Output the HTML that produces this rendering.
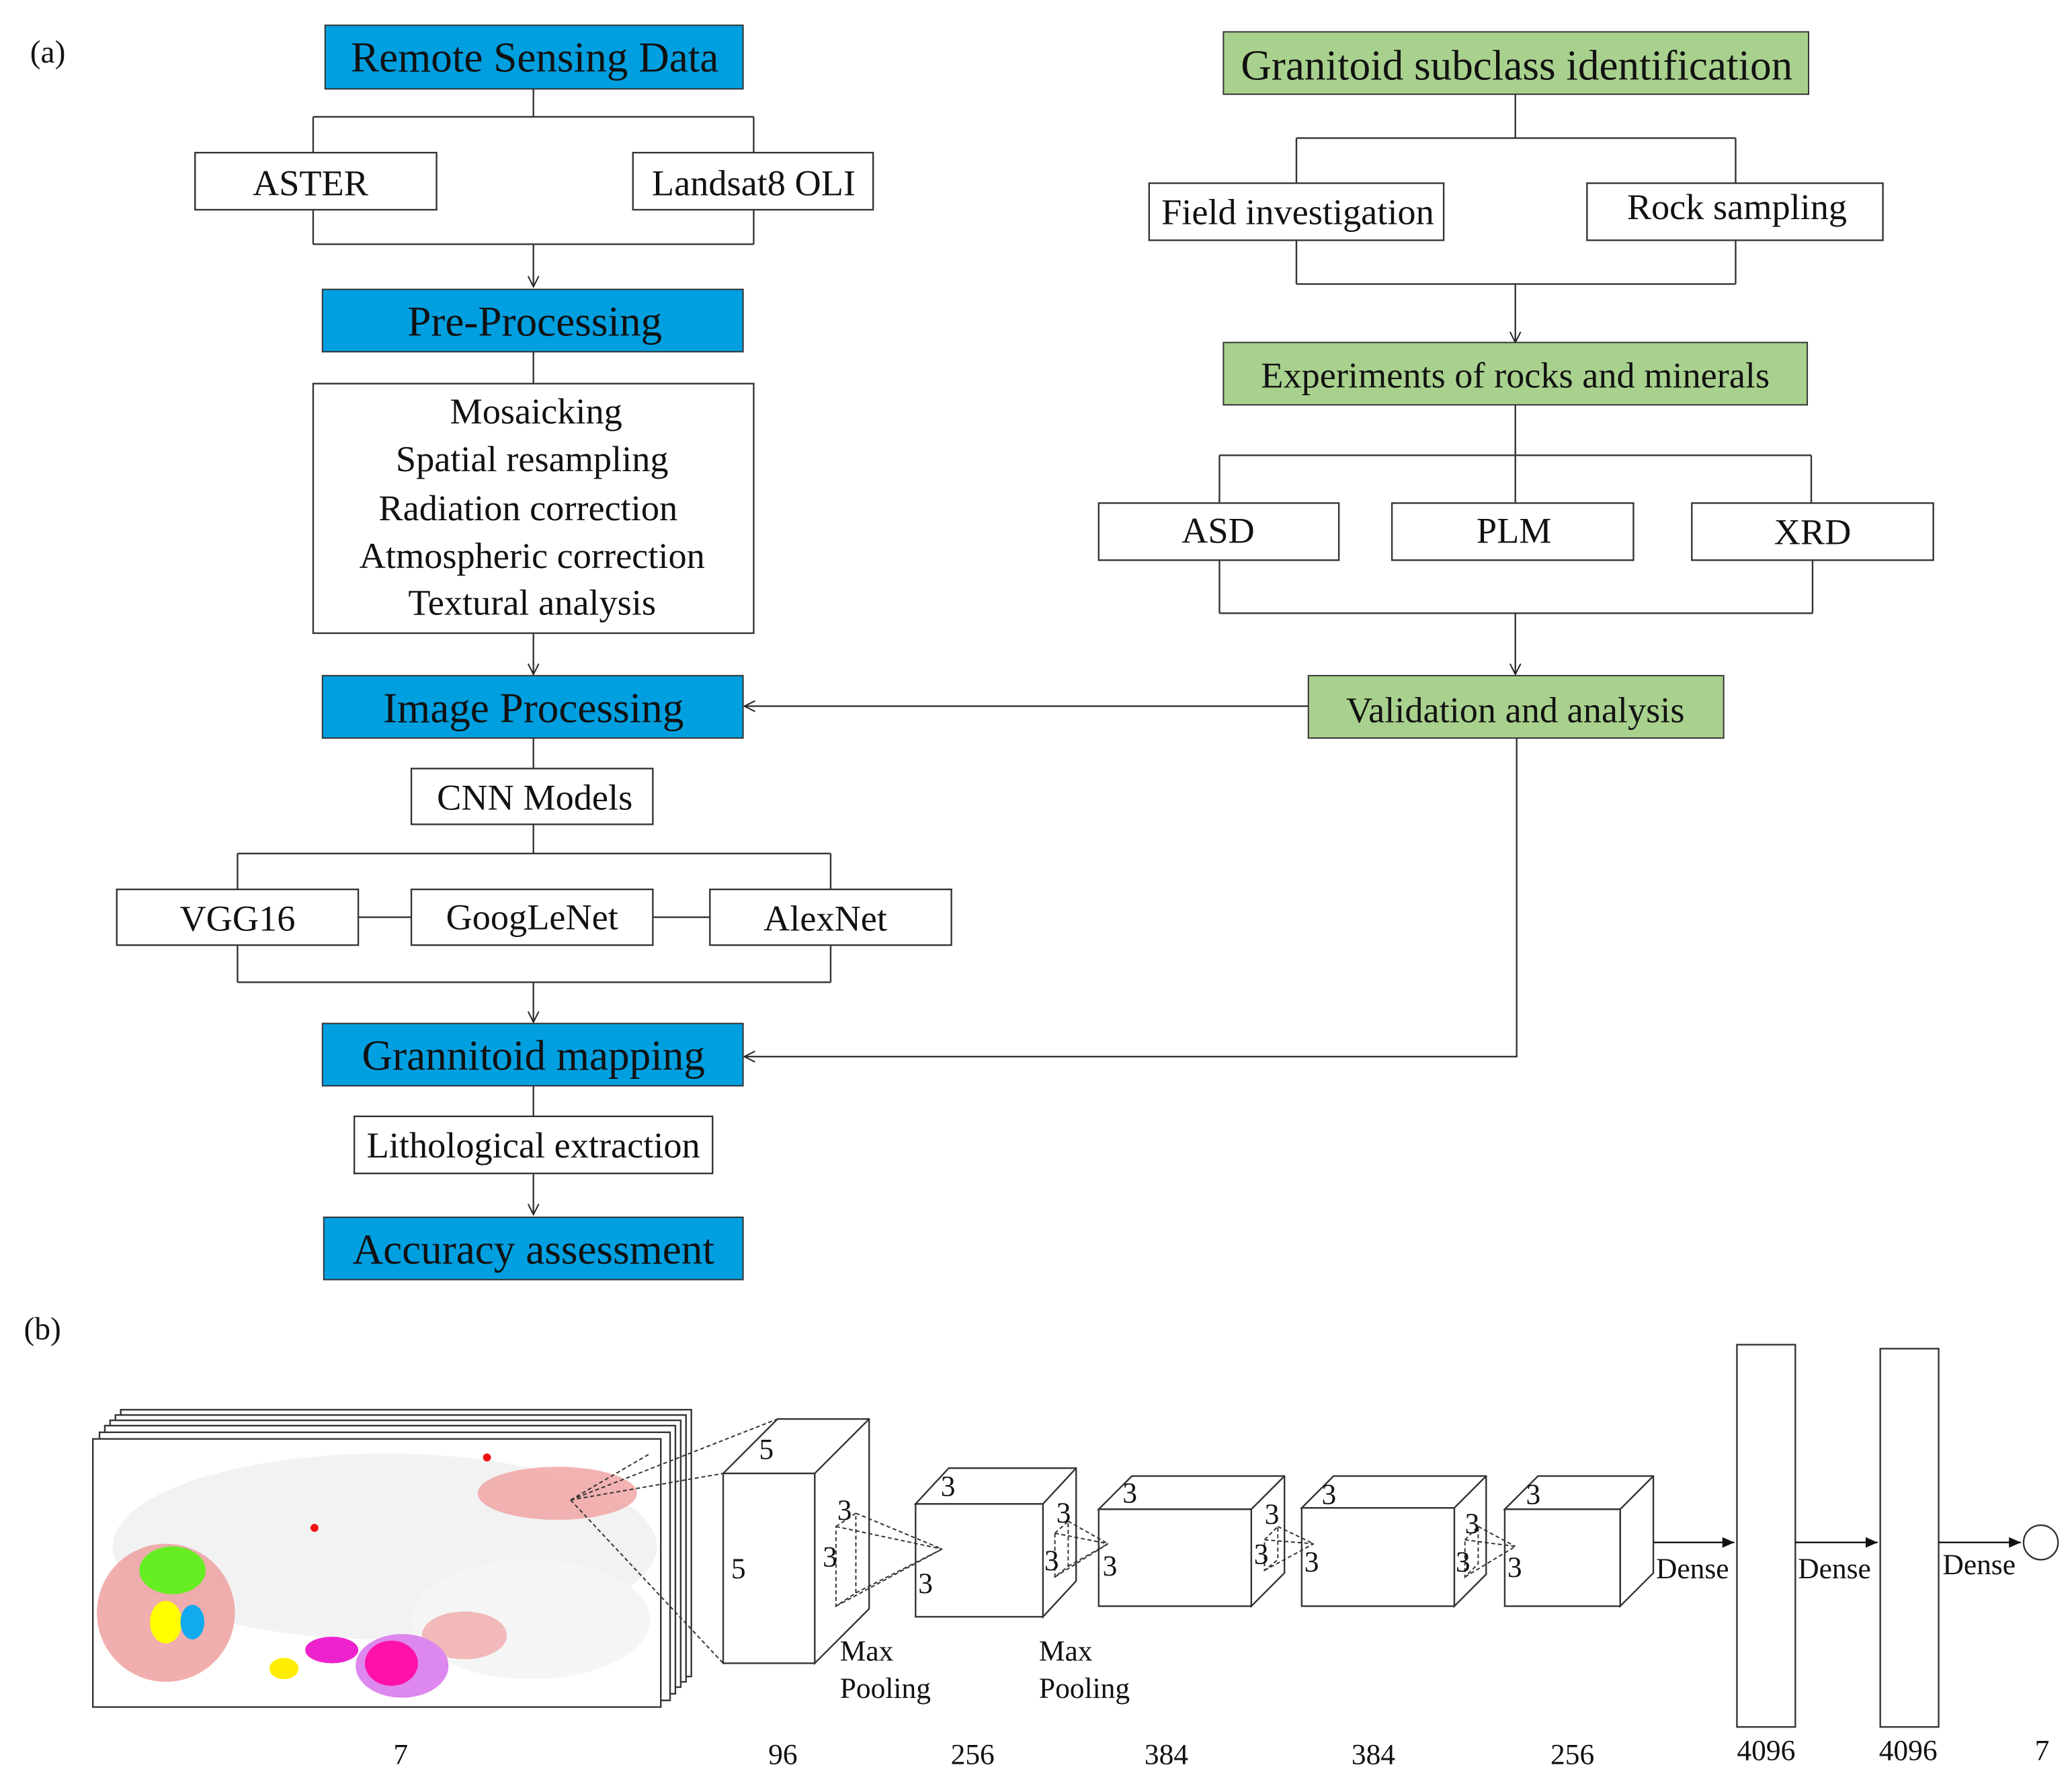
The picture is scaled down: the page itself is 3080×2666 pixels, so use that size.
<!DOCTYPE html>
<html><head><meta charset="utf-8"><style>
html,body{margin:0;padding:0;background:#fff;}
svg{display:block;}
text{font-family:"Liberation Serif",serif;fill:#111;}
</style></head><body>
<svg width="3080" height="2666" viewBox="0 0 1560 1350" preserveAspectRatio="none" xmlns="http://www.w3.org/2000/svg">
<defs>
<marker id="a" markerWidth="10" markerHeight="10" refX="9" refY="5" orient="auto" markerUnits="userSpaceOnUse"><path d="M1,1 L9,5 L1,9" fill="none" stroke="#222" stroke-width="1"/></marker>
<marker id="f" markerWidth="10" markerHeight="10" refX="9" refY="5" orient="auto" markerUnits="userSpaceOnUse"><path d="M0,1 L9,5 L0,9z" fill="#111"/></marker>
</defs>
<g stroke="#333" stroke-width="1.2" fill="none">
<path d="M402,67V88M236,88H568M236,88V115M568,88V115M236,158V184M568,158V184M236,184H568"/>
<path d="M402,184V216" marker-end="url(#a)"/>
<path d="M402,265V289"/>
<path d="M402,477V508" marker-end="url(#a)"/>
<path d="M402,556V579M402,621V643M179,643H626M179,643V670M626,643V670M270,691H310M492,691H535M179,712V740M626,712V740M179,740H626"/>
<path d="M402,740V770" marker-end="url(#a)"/>
<path d="M402,818V841"/>
<path d="M402,884V915" marker-end="url(#a)"/>
<path d="M1142,71V104M977,104H1308M977,104V138M1308,104V138M977,181V214M1308,181V214M977,214H1308"/>
<path d="M1142,214V258" marker-end="url(#a)"/>
<path d="M1142,305V343M919,343H1365M919,343V379M1365,343V379M1142,343V379M919,422V462M1366,422V462M919,462H1366"/>
<path d="M1142,462V508" marker-end="url(#a)"/>
<path d="M986,532H561" marker-end="url(#a)"/>
<path d="M1143,556V796H561" marker-end="url(#a)"/>
</g>
<g fill="#009fe0" stroke="#333" stroke-width="1">
<rect x="245" y="19" width="315" height="48"/>
<rect x="243" y="218" width="317" height="47"/>
<rect x="243" y="509" width="317" height="47"/>
<rect x="243" y="771" width="317" height="47"/>
<rect x="244" y="917" width="316" height="47"/>
</g>
<g fill="#a9d18e" stroke="#333" stroke-width="1">
<rect x="922" y="24" width="441" height="47"/>
<rect x="922" y="258" width="440" height="47"/>
<rect x="986" y="509" width="313" height="47"/>
</g>
<g fill="#fff" stroke="#333" stroke-width="1.2">
<rect x="147" y="115" width="182" height="43"/>
<rect x="477" y="115" width="181" height="43"/>
<rect x="236" y="289" width="332" height="188"/>
<rect x="310" y="579" width="182" height="42"/>
<rect x="88" y="670" width="182" height="42"/>
<rect x="310" y="670" width="182" height="42"/>
<rect x="535" y="670" width="182" height="42"/>
<rect x="267" y="841" width="270" height="43"/>
<rect x="866" y="138" width="222" height="43"/>
<rect x="1196" y="138" width="223" height="43"/>
<rect x="828" y="379" width="181" height="43"/>
<rect x="1049" y="379" width="182" height="43"/>
<rect x="1275" y="379" width="182" height="43"/>
</g>
<g font-size="32" text-anchor="middle">
<text x="403" y="54">Remote Sensing Data</text>
<text x="403" y="253">Pre-Processing</text>
<text x="402" y="544">Image Processing</text>
<text x="402" y="806">Grannitoid mapping</text>
<text x="402" y="952">Accuracy assessment</text>
<text x="1143" y="60">Granitoid subclass identification</text>
</g>
<g font-size="27.5" text-anchor="middle">
<text x="1142" y="292">Experiments  of  rocks and minerals</text>
<text x="1142" y="544">Validation  and  analysis</text>
<text x="234" y="147">ASTER</text>
<text x="568" y="147">Landsat8 OLI</text>
<text x="404" y="319">Mosaicking</text>
<text x="401" y="355">Spatial resampling</text>
<text x="398" y="392">Radiation correction</text>
<text x="401" y="428">Atmospheric correction</text>
<text x="401" y="463">Textural analysis</text>
<text x="403" y="610">CNN Models</text>
<text x="179" y="701">VGG16</text>
<text x="401" y="700">GoogLeNet</text>
<text x="622" y="701">AlexNet</text>
<text x="402" y="872">Lithological extraction</text>
<text x="978" y="169">Field investigation</text>
<text x="1309" y="165">Rock sampling</text>
<text x="918" y="409">ASD</text>
<text x="1141" y="409">PLM</text>
<text x="1366" y="410">XRD</text>
<text x="36" y="47" font-size="24">(a)</text>
<text x="32" y="1009" font-size="24">(b)</text>
</g>
<g stroke="#333" stroke-width="1.2" fill="#fff">
<rect x="91" y="1062" width="430" height="201"/>
<rect x="87" y="1066" width="430" height="201"/>
<rect x="83" y="1070" width="430" height="201"/>
<rect x="79" y="1074" width="430" height="202"/>
<rect x="75" y="1079" width="430" height="202"/>
<rect x="70" y="1084" width="428" height="202"/>
</g>
<g>
<ellipse cx="290" cy="1165" rx="205" ry="70" fill="#f2f2f2"/>
<ellipse cx="400" cy="1220" rx="90" ry="45" fill="#f5f5f5"/>
<ellipse cx="125" cy="1215" rx="52" ry="52" fill="#ee9a9a" opacity="0.8"/>
<ellipse cx="130" cy="1183" rx="25" ry="18" fill="#66ee22"/>
<ellipse cx="125" cy="1222" rx="12" ry="16" fill="#ffff00"/>
<ellipse cx="145" cy="1222" rx="9" ry="13" fill="#11aaee"/>
<ellipse cx="420" cy="1125" rx="60" ry="20" fill="#f0a0a0" opacity="0.8"/>
<ellipse cx="350" cy="1232" rx="32" ry="18" fill="#f0a0a0" opacity="0.7"/>
<ellipse cx="303" cy="1255" rx="35" ry="24" fill="#dd88ee"/>
<ellipse cx="295" cy="1253" rx="20" ry="17" fill="#ff11aa"/>
<ellipse cx="250" cy="1243" rx="20" ry="10" fill="#ee22cc"/>
<ellipse cx="214" cy="1257" rx="11" ry="8" fill="#ffee00"/>
<circle cx="237" cy="1151" r="3" fill="#e11"/>
<circle cx="367" cy="1098" r="3" fill="#e11"/>
</g>
<g stroke="#333" stroke-width="1.2" fill="#fff">
<path d="M545,1110L586,1069H655V1212L614,1253V1110Z M545,1110H614L655,1069"/>
<rect x="545" y="1110" width="69" height="143"/>
<path d="M690,1133L715,1106H811V1191L786,1218V1133Z M786,1133L811,1106"/>
<rect x="690" y="1133" width="96" height="85"/>
<path d="M828,1137L853,1112H968V1185L943,1210V1137Z M943,1137L968,1112"/>
<rect x="828" y="1137" width="115" height="73"/>
<path d="M981,1136L1005,1112H1120V1186L1096,1210V1136Z M1096,1136L1120,1112"/>
<rect x="981" y="1136" width="115" height="74"/>
<path d="M1134,1137L1159,1112H1246V1185L1221,1210V1137Z M1221,1137L1246,1112"/>
<rect x="1134" y="1137" width="87" height="73"/>
<rect x="1309" y="1013" width="44" height="288"/>
<rect x="1417" y="1016" width="44" height="285"/>
<circle cx="1538" cy="1162" r="13"/>
</g>
<g stroke="#333" stroke-width="1" fill="none" stroke-dasharray="3,2">
<path d="M430,1130L545,1110M430,1130L586,1069M430,1130L545,1253M430,1130L490,1095"/>
<path d="M630,1150L645,1140V1200L630,1210ZM645,1140L710,1167M630,1150L710,1167M630,1210L710,1167M645,1200L710,1167"/>
<path d="M795,1155L805,1146V1180L795,1188ZM805,1146L835,1163M795,1155L835,1163M795,1188L835,1163M805,1180L835,1163"/>
<path d="M953,1160L963,1150V1175L953,1183ZM963,1150L990,1163M953,1160L990,1163M953,1183L990,1163"/>
<path d="M1104,1160L1114,1150V1178L1104,1188ZM1114,1150L1142,1165M1104,1160L1142,1165M1104,1188L1142,1165"/>
</g>
<g stroke="#111" stroke-width="1.2">
<path d="M1246,1162H1307" marker-end="url(#f)"/>
<path d="M1353,1162H1415" marker-end="url(#f)"/>
<path d="M1461,1162H1523" marker-end="url(#f)"/>
</g>
<g font-size="22">
<text x="572" y="1099">5</text><text x="551" y="1189">5</text>
<text x="631" y="1145">3</text><text x="620" y="1180">3</text>
<text x="709" y="1127">3</text><text x="692" y="1200">3</text>
<text x="796" y="1147">3</text><text x="787" y="1183">3</text>
<text x="846" y="1132">3</text><text x="831" y="1187">3</text>
<text x="953" y="1148">3</text><text x="945" y="1178">3</text><text x="983" y="1184">3</text>
<text x="996" y="1133">3</text>
<text x="1104" y="1155">3</text><text x="1097" y="1184">3</text><text x="1136" y="1188">3</text>
<text x="1150" y="1133">3</text>
<text x="633" y="1251">Max</text><text x="633" y="1279">Pooling</text>
<text x="783" y="1251">Max</text><text x="783" y="1279">Pooling</text>
<text x="1248" y="1189">Dense</text><text x="1355" y="1189">Dense</text><text x="1464" y="1186">Dense</text>
</g>
<g font-size="22" text-anchor="middle">
<text x="302" y="1329">7</text><text x="590" y="1329">96</text><text x="733" y="1329">256</text>
<text x="879" y="1329">384</text><text x="1035" y="1329">384</text><text x="1185" y="1329">256</text>
<text x="1331" y="1326">4096</text><text x="1438" y="1326">4096</text><text x="1539" y="1326">7</text>
</g>
</svg>
</body></html>
